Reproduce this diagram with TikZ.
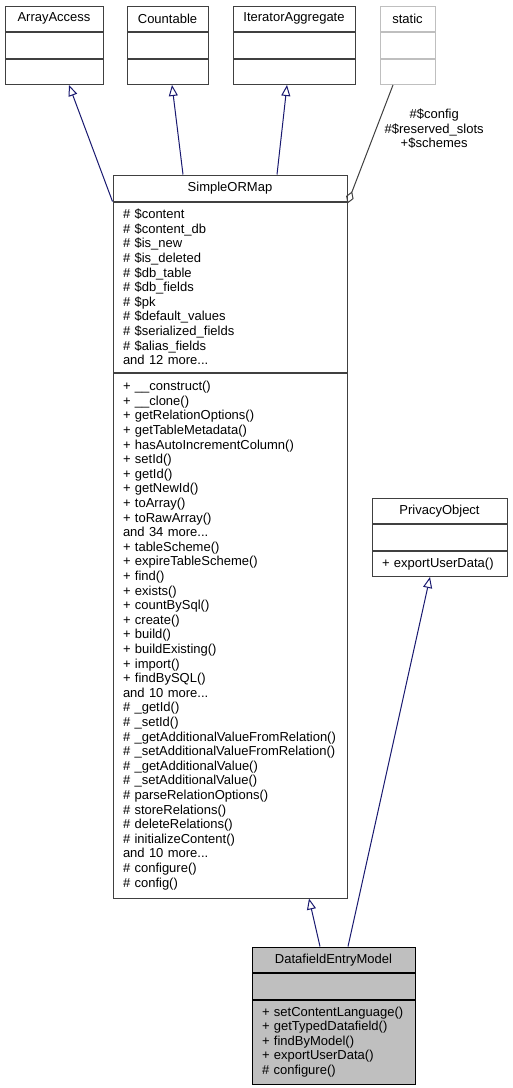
\documentclass[tikz,border=0pt]{standalone}
\usepackage{fontspec}
\setmainfont{Liberation Sans}
\usetikzlibrary{positioning, arrows.meta}
\definecolor{edgeblue}{RGB}{25,25,112}
\definecolor{boxline}{RGB}{64,64,64}
\definecolor{ghostline}{RGB}{191,191,191}
\definecolor{selfill}{RGB}{191,191,191}

\begin{document}
\begin{tikzpicture}[x=1pt, y=-1pt, line width=1pt,
    every node/.style={font=\fontsize{13}{14.6}\selectfont, inner sep=0pt},
    head/.style={draw=boxline, minimum height=25.5pt, align=center},
    body/.style={draw=boxline, align=left, inner xsep=10pt, minimum height=25.5pt},
    inherit/.style={draw=edgeblue, -{Triangle[open, length=11pt, width=9pt]}},
    uses/.style={draw=boxline, {Diamond[open, length=13pt, width=8pt]}-}]
    \useasboundingbox[fill=white] (0,0) rectangle (512,1088);

    \node (aa) [head, minimum width=98pt] at (54,18.75) {ArrayAccess};
    \node (aa-attr) [body, text width=78pt, below=0pt of aa] {};
    \node (aa-ops) [body, text width=78pt, below=0pt of aa-attr] {};

    \node (cnt) [head, minimum width=81pt] at (167.5,18.75) {Countable};
    \node (cnt-attr) [body, text width=61pt, below=0pt of cnt] {};
    \node (cnt-ops) [body, text width=61pt, below=0pt of cnt-attr] {};

    \node (ia) [head, minimum width=122pt] at (294,18.75) {IteratorAggregate};
    \node (ia-attr) [body, text width=102pt, below=0pt of ia] {};
    \node (ia-ops) [body, text width=102pt, below=0pt of ia-attr] {};

    \node (st) [head, draw=ghostline, minimum width=55pt] at (407.5,18.75) {static};
    \node (st-attr) [body, draw=ghostline, text width=35pt, below=0pt of st] {};
    \node (st-ops) [body, draw=ghostline, text width=35pt, below=0pt of st-attr] {};

    \node (som) [head, minimum width=234pt, minimum height=26pt] at (230,188) {SimpleORMap};
    \node (som-attr) [body, text width=214pt, minimum height=170pt, below=0pt of som] {\# \$content\\\# \$content\_db\\\# \$is\_new\\\# \$is\_deleted\\\# \$db\_table\\\# \$db\_fields\\\# \$pk\\\# \$default\_values\\\# \$serialized\_fields\\\# \$alias\_fields\\and 12 more...};
    \node (som-ops) [body, text width=214pt, minimum height=525pt, below=0pt of som-attr] {+ \_\_construct()\\+ \_\_clone()\\+ getRelationOptions()\\+ getTableMetadata()\\+ hasAutoIncrementColumn()\\+ setId()\\+ getId()\\+ getNewId()\\+ toArray()\\+ toRawArray()\\and 34 more...\\+ tableScheme()\\+ expireTableScheme()\\+ find()\\+ exists()\\+ countBySql()\\+ create()\\+ build()\\+ buildExisting()\\+ import()\\+ findBySQL()\\and 10 more...\\\# \_getId()\\\# \_setId()\\\# \_getAdditionalValueFromRelation()\\\# \_setAdditionalValueFromRelation()\\\# \_getAdditionalValue()\\\# \_setAdditionalValue()\\\# parseRelationOptions()\\\# storeRelations()\\\# deleteRelations()\\\# initializeContent()\\and 10 more...\\\# configure()\\\# config()};

    \node (po) [head, minimum width=135pt] at (439.5,510.75) {PrivacyObject};
    \node (po-attr) [body, text width=115pt, below=0pt of po] {};
    \node (po-ops) [body, text width=115pt, below=0pt of po-attr] {+ exportUserData()};

    \node (dem) [head, draw=black, fill=selfill, minimum width=163pt] at (333.5,959.75) {DatafieldEntryModel};
    \node (dem-attr) [body, draw=black, fill=selfill, text width=143pt, below=0pt of dem] {};
    \node (dem-ops) [body, draw=black, fill=selfill, text width=143pt, minimum height=84pt, below=0pt of dem-attr] {+ setContentLanguage()\\+ getTypedDatafield()\\+ findByModel()\\+ exportUserData()\\\# configure()};

    % Connections
    \draw[inherit] (som.south west) -- ([xshift=15pt]aa-ops.south);
    \draw[inherit] ([xshift=-47pt]som.north) -- ([xshift=4.5pt]cnt-ops.south);
    \draw[inherit] ([xshift=47pt]som.north) -- ([xshift=-7pt]ia-ops.south);
    \draw[uses] ([yshift=-2pt]som.south east) -- node[pos=0.63, anchor=west, xshift=8pt, align=center] {\#\$config\\\#\$reserved\_slots\\+\$schemes} ([xshift=-14.5pt]st-ops.south);
    \draw[inherit] ([xshift=-13.5pt]dem.north) -- ([xshift=79pt]som-ops.south);
    \draw[inherit] ([xshift=14.5pt]dem.north) -- ([xshift=-9.5pt]po-ops.south);
\end{tikzpicture}
\end{document}
